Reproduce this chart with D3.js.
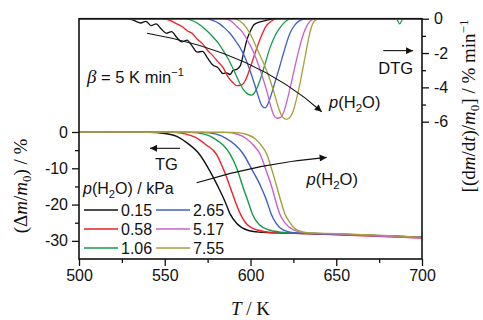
<!DOCTYPE html>
<html>
<head>
<meta charset="utf-8">
<script src="https://cdn.jsdelivr.net/npm/d3@7"></script>
<style>
  body { margin: 0; background: #fff; }
  svg { display: block; }
  text { font-family: "Liberation Sans", Arial, sans-serif; fill: #111; }
  .serif { font-family: "Liberation Serif", "Times New Roman", serif; }
</style>
</head>
<body>
<div id="chart"></div>
<script>
// Water vapour pressures (kPa) and line colours
const pressures = ['0.15', '0.58', '1.06', '2.65', '5.17', '7.55'];
const colors = ['#111111', '#ec2127', '#16994a', '#3f5fc6', '#cc5fcc', '#a5a13a'];

// TG curves: [T (K), dm/m0 (%)]
const tgBlack = [[500,0],[540,-0.1],[550,-0.4],[557,-1.2],[563,-3],[570,-6],[576,-10.5],[581,-15],[585,-19],[588,-22.5],[592,-25.2],[598,-27],[605,-27.6],[615,-27.8],[640,-28.1],[670,-28.5],[700,-29]];
const tgRed = [[500,0],[555,-0.1],[562,-0.5],[568,-1.5],[574,-3.5],[580,-6],[584,-10],[588,-15],[591,-19],[594,-22.5],[598,-25.5],[604,-27],[612,-27.7],[625,-27.9],[650,-28.3],[700,-29.2]];
const tgGreen = [[500,0],[565,-0.1],[573,-0.6],[579,-1.8],[584,-3.6],[588,-6],[592,-10],[595.5,-15],[598.5,-19],[601,-22.5],[605,-25.5],[611,-27],[620,-27.7],[635,-27.9],[660,-28.3],[700,-29]];
const tgBlue = [[500,0],[572,-0.1],[580,-0.6],[586,-1.8],[591,-3.5],[595.7,-6],[601,-10.5],[606,-15],[609.5,-19],[612,-22.5],[615,-25.2],[619,-27],[626,-27.8],[640,-28],[670,-28.5],[700,-29]];
const tgMagenta = [[500,0],[585,-0.1],[593,-0.7],[598,-2],[602,-3.8],[605.5,-6],[609,-10.5],[612.3,-15],[615,-19.5],[617,-22.5],[620,-25],[625,-27],[632,-27.8],[650,-28.1],[700,-29.2]];
const tgOlive = [[500,0],[590,-0.1],[598,-0.7],[603,-2],[606.5,-3.8],[609.4,-6],[612.5,-10.5],[615.3,-15],[618,-19.5],[620,-22.5],[623,-25],[627,-27],[634,-27.8],[650,-28],[700,-29]];

// DTG curves: [T (K), d(dm/m0)/dt (% min^-1)]
const dtgBlack = [[500,0],[528,0],[532,-0.1],[536,-0.25],[539,-0.15],[542,-0.4],[545,-0.3],[548,-0.6],[551,-0.85],[554,-0.75],[557,-1.1],[560,-1.35],[563,-1.25],[566,-1.6],[569,-1.95],[572,-1.9],[575,-2.3],[578,-2.7],[581,-2.85],[584,-3.2],[586,-3.15],[588,-3.25],[590,-3.0],[592,-2.95],[594,-2.75],[596,-2.0],[598,-1.2],[600,-0.7],[602,-0.35],[605,-0.2],[609,-0.1],[614,0],[700,0]];
const dtgRed = [[500,0],[548,0],[553,-0.1],[557,-0.3],[560,-0.45],[563,-0.7],[566,-0.85],[569,-1.2],[572,-1.45],[575,-1.85],[578,-2.15],[581,-2.5],[584,-2.85],[587,-3.4],[590,-3.75],[592,-3.9],[595,-3.85],[597,-3.6],[600,-2.8],[603,-1.9],[606,-1.1],[609,-0.45],[612,-0.15],[616,0],[700,0]];
const dtgGreen = [[500,0],[562,0],[567,-0.15],[571,-0.4],[575,-0.75],[578,-1.05],[581,-1.4],[584,-1.85],[587,-2.35],[590,-2.95],[593,-3.6],[596,-4.15],[598,-4.35],[600.5,-4.45],[603,-4.2],[605.5,-3.6],[608,-2.8],[611,-1.8],[614,-1.05],[617,-0.55],[620,-0.2],[624,0],[685,0],[687,-0.3],[689,0],[700,0]];
const dtgBlue = [[500,0],[574,0],[578,-0.1],[582,-0.3],[585,-0.55],[588,-0.85],[591,-1.25],[594,-1.7],[597,-2.3],[600,-3.1],[602,-3.7],[604.5,-4.5],[606.5,-5.05],[608.5,-5.2],[610,-5.0],[611.5,-4.6],[614,-3.8],[617,-2.8],[620,-1.75],[623,-0.85],[626,-0.35],[629,-0.1],[633,0],[700,0]];
const dtgMagenta = [[500,0],[584,0],[588,-0.1],[592,-0.45],[595.8,-0.85],[599,-1.4],[602,-2.0],[604.5,-2.65],[607,-3.4],[609.5,-4.2],[611.5,-5.0],[613.5,-5.6],[615.5,-5.8],[617.5,-5.75],[619.5,-5.4],[622,-4.5],[625,-3.2],[628,-1.9],[631,-0.85],[633.5,-0.3],[636,-0.05],[640,0],[700,0]];
const dtgOlive = [[500,0],[590,0],[594,-0.15],[597.5,-0.5],[600.7,-1.05],[604,-1.8],[608.5,-2.8],[611.5,-3.6],[614.3,-4.5],[616.5,-5.25],[618.5,-5.7],[621,-5.86],[623,-5.75],[625,-5.35],[627,-4.6],[629,-3.7],[631.5,-2.4],[633.7,-1.25],[635.5,-0.5],[637.6,-0.1],[641,0],[700,0]];

const tgSeries = [tgBlack, tgRed, tgGreen, tgBlue, tgMagenta, tgOlive];
const dtgSeries = [dtgBlack, dtgRed, dtgGreen, dtgBlue, dtgMagenta, dtgOlive];

// Ticks
const xTicks = [500, 550, 600, 650, 700];
const xMinor = [525, 575, 625, 675];
const tgTicks = [0, -10, -20, -30];
const tgMinor = [-5, -15, -25];
const dtgTicks = [0, -2, -4, -6];
const dtgMinor = [-1, -3, -5];

const W = 483, H = 320;
const padL = 79, padR = 422, padT = 18.7, padB = 259;

const svg = d3.select('#chart').append('svg')
  .attr('width', W).attr('height', H);

const x = d3.scaleLinear().domain([500, 700]).range([padL, padR]);
const yTG = d3.scaleLinear().domain([-35, 0]).range([padB, 132]);
const yDTG = d3.scaleLinear().domain([-6, 0]).range([121.7, padT]);

// arrow marker
svg.append('defs').append('marker')
  .attr('id', 'arrow')
  .attr('viewBox', '0 0 10 10')
  .attr('refX', 10).attr('refY', 5)
  .attr('markerUnits', 'userSpaceOnUse')
  .attr('markerWidth', 10).attr('markerHeight', 7)
  .attr('orient', 'auto')
  .append('path').attr('d', 'M0,0 L10,5 L0,10 Z').attr('fill', '#111');

// curves
const tgLine = d3.line().x(d => x(d[0])).y(d => yTG(d[1])).curve(d3.curveMonotoneX);
const dtgLine = d3.line().x(d => x(d[0])).y(d => yDTG(d[1])).curve(d3.curveMonotoneX);

svg.append('g').selectAll('path')
  .data(tgSeries).enter().append('path')
  .attr('d', tgLine)
  .attr('fill', 'none')
  .attr('stroke', (d, i) => colors[i])
  .attr('stroke-width', 1.4);

svg.append('g').selectAll('path')
  .data(dtgSeries).enter().append('path')
  .attr('d', dtgLine)
  .attr('fill', 'none')
  .attr('stroke', (d, i) => colors[i])
  .attr('stroke-width', 1.3);

// axes
const fmt = d => String(d);
function styleAxis(g) {
  g.select('.domain').remove();
  g.selectAll('line').attr('stroke', '#111').attr('stroke-width', 1.3);
  g.selectAll('text').attr('font-size', 16).attr('fill', '#111')
    .attr('font-family', '"Liberation Sans", Arial, sans-serif');
}

svg.append('g').attr('transform', `translate(0,${padB})`)
  .call(d3.axisBottom(x).tickValues(xTicks).tickFormat(fmt).tickSize(7).tickPadding(4))
  .call(styleAxis);
svg.append('g').attr('transform', `translate(0,${padB})`)
  .call(d3.axisBottom(x).tickValues(xMinor).tickFormat('').tickSize(4))
  .call(styleAxis);

svg.append('g').attr('transform', `translate(${padL},0)`)
  .call(d3.axisLeft(yTG).tickValues(tgTicks).tickFormat(fmt).tickSize(7).tickPadding(4))
  .call(styleAxis);
svg.append('g').attr('transform', `translate(${padL},0)`)
  .call(d3.axisLeft(yTG).tickValues(tgMinor).tickFormat('').tickSize(4))
  .call(styleAxis);

svg.append('g').attr('transform', `translate(${padR},0)`)
  .call(d3.axisRight(yDTG).tickValues(dtgTicks).tickFormat(fmt).tickSize(7).tickPadding(5))
  .call(styleAxis);
svg.append('g').attr('transform', `translate(${padR},0)`)
  .call(d3.axisRight(yDTG).tickValues(dtgMinor).tickFormat('').tickSize(4))
  .call(styleAxis);

// frame
svg.append('rect')
  .attr('x', padL).attr('y', padT)
  .attr('width', padR - padL).attr('height', padB - padT)
  .attr('fill', 'none').attr('stroke', '#111').attr('stroke-width', 1.6);

// helper for p(H2O) text
function pH2O(sel, size) {
  sel.append('tspan').attr('font-style', 'italic').text('p');
  sel.append('tspan').text('(H');
  sel.append('tspan').attr('dy', 4).attr('font-size', size * 0.7).text('2');
  sel.append('tspan').attr('dy', -4).text('O)');
  return sel;
}

const fs = 16.5;

// annotations (in data coordinates)
const beta = svg.append('text')
  .attr('x', x(504.7)).attr('y', yDTG(-3.75)).attr('font-size', fs);
beta.append('tspan').attr('class', 'serif').attr('font-style', 'italic').attr('font-size', 19).text('β');
beta.append('tspan').text(' = 5 K min');
beta.append('tspan').attr('dy', -7).attr('font-size', 11).text('−1');

// DTG pressure arrow
svg.append('path')
  .attr('d', `M${x(539.7)},${yDTG(-0.85)} Q${x(602.6)},${yDTG(-1.94)} ${x(641.5)},${yDTG(-5.42)}`)
  .attr('fill', 'none').attr('stroke', '#111').attr('stroke-width', 1.1)
  .attr('marker-end', 'url(#arrow)');
pH2O(svg.append('text').attr('x', x(645.8)).attr('y', yDTG(-5.2)).attr('font-size', fs), fs);

// DTG label arrow
svg.append('line')
  .attr('x1', x(677.4)).attr('y1', yDTG(-1.86))
  .attr('x2', x(694.8)).attr('y2', yDTG(-1.86))
  .attr('stroke', '#111').attr('stroke-width', 1.1)
  .attr('marker-end', 'url(#arrow)');
svg.append('text').attr('x', x(694.8)).attr('y', yDTG(-3.2))
  .attr('text-anchor', 'end').attr('font-size', fs).text('DTG');

// TG label arrow
svg.append('line')
  .attr('x1', x(558.9)).attr('y1', yTG(-4.5))
  .attr('x2', x(541.4)).attr('y2', yTG(-4.5))
  .attr('stroke', '#111').attr('stroke-width', 1.1)
  .attr('marker-end', 'url(#arrow)');
svg.append('text').attr('x', x(544.3)).attr('y', yTG(-10.6))
  .attr('font-size', fs).text('TG');

// TG pressure arrow
svg.append('path')
  .attr('d', `M${x(568.6)},${yTG(-14)} Q${x(605.7)},${yTG(-8.56)} ${x(644.4)},${yTG(-7)}`)
  .attr('fill', 'none').attr('stroke', '#111').attr('stroke-width', 1.1)
  .attr('marker-end', 'url(#arrow)');
pH2O(svg.append('text').attr('x', x(632.7)).attr('y', yTG(-14.5)).attr('font-size', fs), fs);

// legend
const lg = svg.append('g').attr('transform', `translate(${padL + 4},194)`);
const lt = lg.append('text').attr('x', 0).attr('y', 0).attr('font-size', 16);
pH2O(lt, 16);
lt.append('tspan').text(' / kPa');
pressures.forEach((p, i) => {
  const col = Math.floor(i / 3), row = i % 3;
  const gx = col * 72, gy = 16 + row * 19;
  lg.append('line')
    .attr('x1', gx + 1).attr('x2', gx + 35)
    .attr('y1', gy).attr('y2', gy)
    .attr('stroke', colors[i]).attr('stroke-width', 1.6);
  lg.append('text').attr('x', gx + 38).attr('y', gy + 5.8)
    .attr('font-size', 16).text(p);
});

// axis titles
const xt = svg.append('text').attr('class', 'serif')
  .attr('x', (padL + padR) / 2).attr('y', 315)
  .attr('text-anchor', 'middle').attr('font-size', 19);
xt.append('tspan').attr('font-style', 'italic').text('T');
xt.append('tspan').text(' / K');

const yl = svg.append('text').attr('class', 'serif')
  .attr('transform', 'translate(27,186) rotate(-90)')
  .attr('text-anchor', 'middle').attr('font-size', 19);
yl.append('tspan').text('(Δ');
yl.append('tspan').attr('font-style', 'italic').text('m');
yl.append('tspan').text('/');
yl.append('tspan').attr('font-style', 'italic').text('m');
yl.append('tspan').attr('dy', 4).attr('font-size', 13).text('0');
yl.append('tspan').attr('dy', -4).text(') / %');

const yr = svg.append('text').attr('class', 'serif')
  .attr('transform', 'translate(475,106) rotate(-90)')
  .attr('text-anchor', 'middle').attr('font-size', 19);
yr.append('tspan').text('[(d');
yr.append('tspan').attr('font-style', 'italic').text('m');
yr.append('tspan').text('/d');
yr.append('tspan').attr('font-style', 'italic').text('t');
yr.append('tspan').text(')/');
yr.append('tspan').attr('font-style', 'italic').text('m');
yr.append('tspan').attr('dy', 4).attr('font-size', 13).text('0');
yr.append('tspan').attr('dy', -4).text('] / % min');
yr.append('tspan').attr('dy', -7).attr('font-size', 13).text('−1');
</script>
</body>
</html>
